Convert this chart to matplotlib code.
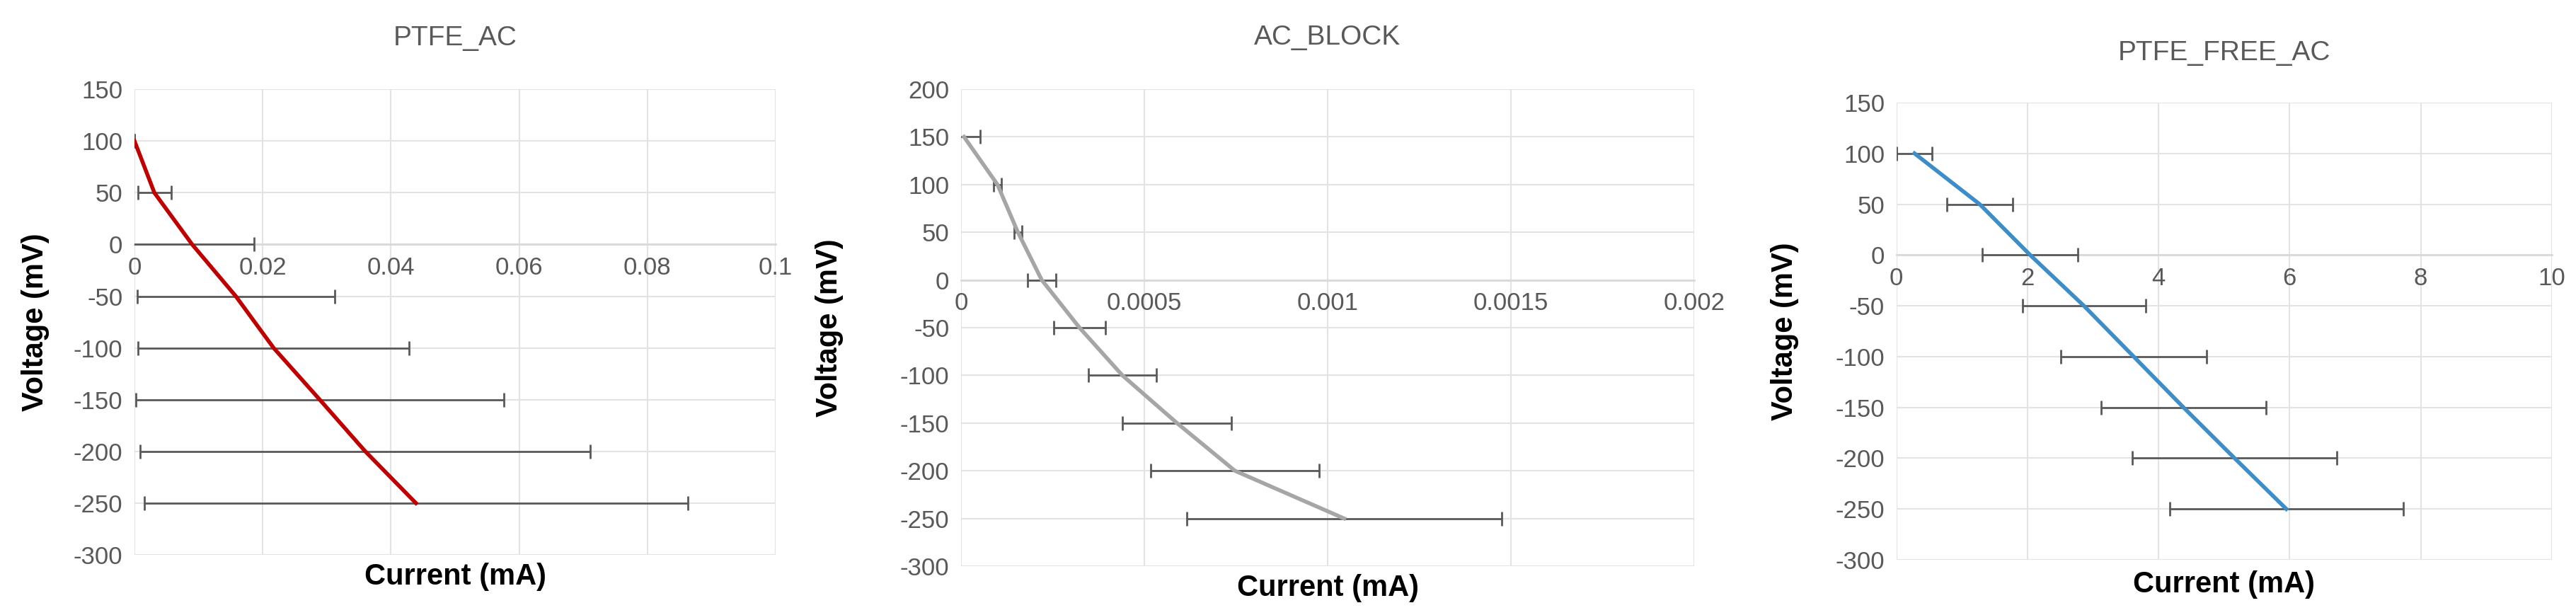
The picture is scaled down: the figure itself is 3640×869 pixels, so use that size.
import matplotlib
matplotlib.use("Agg")
import matplotlib.pyplot as plt

plt.rcParams['font.family'] = ['Liberation Sans', 'DejaVu Sans']
plt.rcParams['axes.unicode_minus'] = False

voltage1 = [100, 50, 0, -50, -100, -150, -200, -250]
current1 = [0.0, 0.0031, 0.009, 0.0158, 0.0217, 0.0289, 0.036, 0.0439]
err1 = [0.0, 0.0026, 0.0097, 0.0154, 0.0211, 0.0287, 0.0351, 0.0424]

voltage2 = [150, 100, 50, 0, -50, -100, -150, -200, -250]
current2 = [0.000008, 0.0000992, 0.000155, 0.00022, 0.000323, 0.00044, 0.000589, 0.000747, 0.001045]
err2 = [0.000043, 0.00001, 0.00001, 0.000038, 0.00007, 0.000092, 0.000149, 0.000229, 0.000429]

voltage3 = [100, 50, 0, -50, -100, -150, -200, -250]
current3 = [0.275, 1.27, 2.04, 2.86, 3.62, 4.38, 5.16, 5.95]
err3 = [0.27, 0.50, 0.73, 0.94, 1.11, 1.26, 1.56, 1.78]

titles = ["PTFE_AC", "AC_BLOCK", "PTFE_FREE_AC"]
xticks = [[0, 0.02, 0.04, 0.06, 0.08, 0.1], [0, 0.0005, 0.001, 0.0015, 0.002], [0, 2, 4, 6, 8, 10]]
xticklabels = [["0", "0.02", "0.04", "0.06", "0.08", "0.1"], ["0", "0.0005", "0.001", "0.0015", "0.002"],
               ["0", "2", "4", "6", "8", "10"]]
yticks = [list(range(-300, 151, 50)), list(range(-300, 201, 50)), list(range(-300, 151, 50))]

fig = plt.figure(figsize=(36.41, 8.69), dpi=100)
rects = [[0.0522, 0.0978, 0.2488, 0.757], [0.373, 0.0794, 0.2845, 0.7756], [0.736, 0.0898, 0.2543, 0.7434]]
colors = ["#C00000", "#A6A6A6", "#3C8DC8"]
data = [(voltage1, current1, err1), (voltage2, current2, err2), (voltage3, current3, err3)]
title_y = [1.11, 1.108, 1.108]
xlab_y = [-0.047, -0.046, -0.054]
ylab_x = [-0.155, -0.18, -0.17]
grey = "#595959"

for i in range(3):
    ax = fig.add_axes(rects[i])
    v, c, e = data[i]
    ax.errorbar(c, v, xerr=e, fmt='none', ecolor=grey, elinewidth=2, capsize=7, capthick=2, zorder=4)
    ax.plot(c, v, color=colors[i], lw=4, zorder=5)
    ax.set_xlim(xticks[i][0], xticks[i][-1])
    ax.set_ylim(yticks[i][0], yticks[i][-1])
    ax.set_xticks(xticks[i])
    ax.set_xticklabels(xticklabels[i])
    ax.set_yticks(yticks[i])
    ax.grid(True, color="#E3E3E3", lw=1.5, zorder=0)
    ax.set_axisbelow(True)
    for s in ['top', 'right', 'left']:
        ax.spines[s].set_visible(False)
    ax.spines['bottom'].set_position(('data', 0))
    ax.spines['bottom'].set_color("#D9D9D9")
    ax.spines['bottom'].set_linewidth(2)
    ax.spines['bottom'].set_zorder(1)
    ax.tick_params(length=0, labelsize=25, labelcolor=grey, pad=12)
    ax.text(0.5, title_y[i], titles[i], transform=ax.transAxes, ha='center', va='center',
            fontsize=28, color=grey)
    ax.text(0.5, xlab_y[i], "Current (mA)", transform=ax.transAxes, ha='center', va='center',
            fontsize=30, fontweight='bold', color='black')
    ax.text(ylab_x[i], 0.5, "Voltage (mV)", transform=ax.transAxes, ha='center', va='center',
            rotation=90, fontsize=30, fontweight='bold', color='black')

fig.savefig("out.png", dpi=100)
